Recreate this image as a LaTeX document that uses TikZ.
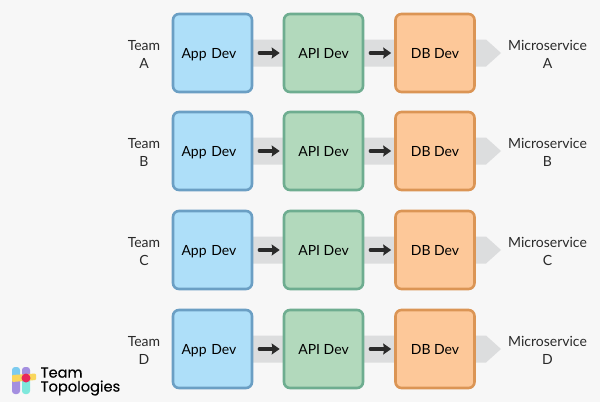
\documentclass[tikz,border=0pt]{standalone}
\usepackage{fontspec}
\setmainfont{Lato}
\newfontfamily\logofont[FakeBold=0.25]{Poppins}
\usetikzlibrary{arrows.meta}
\definecolor{bgc}{HTML}{F7F7F7}
\definecolor{bandc}{HTML}{DCDDDE}
\definecolor{blueF}{HTML}{AEDFF9}
\definecolor{blueD}{HTML}{6B9FC4}
\definecolor{greenF}{HTML}{B2D9BC}
\definecolor{greenD}{HTML}{6EAD90}
\definecolor{orangeF}{HTML}{FDC899}
\definecolor{orangeD}{HTML}{DB9555}
\definecolor{txt}{HTML}{2A2A2A}
\definecolor{logoPurple}{HTML}{A48FE0}
\definecolor{logoTeal}{HTML}{7FE8DC}
\definecolor{logoYellow}{HTML}{F9D65C}
\definecolor{logoRed}{HTML}{E8285A}
\definecolor{logoBlue}{HTML}{7CCBEF}
\tikzset{
  devbox/.style={minimum width=79pt,minimum height=78pt,rounded corners=6pt,line width=2.6pt,inner sep=0pt,font=\fontsize{14}{16}\selectfont,text=black,text depth=0pt},
  appbox/.style={devbox,draw=blueD,fill=blueF},
  apibox/.style={devbox,draw=greenD,fill=greenF},
  dbbox/.style={devbox,draw=orangeD,fill=orangeF},
  sidelabel/.style={align=center,font=\fontsize{14}{18.5}\selectfont,text=txt,inner sep=0pt},
  flowarrow/.style={line width=3.2pt,-{Stealth[length=8pt,width=11pt,inset=1pt]},color=txt,line cap=round},
  band/.style={fill=bandc,draw=none},
  logotext/.style={font=\logofont\fontsize{14.6}{14}\selectfont,align=left,anchor=west,inner sep=0pt,text=black}
}
\begin{document}
\begin{tikzpicture}[x=1pt,y=-1pt]
\path[use as bounding box,fill=bgc] (0,0) rectangle (600,402);
\foreach \n/\L/\yy in {1/A/53,2/B/151,3/C/250,4/D/349}{
  \fill[band] (253,\yy-13.5) -- (486,\yy-13.5) -- (501,\yy) -- (486,\yy+13.5) -- (253,\yy+13.5) -- cycle;
  \node[appbox,text width=73pt,align=left] (app\n) at (212.5,\yy) {\hspace*{5.5pt}App Dev};
  \node[apibox] (api\n) at (323.5,\yy) {API Dev};
  \node[dbbox] (db\n) at (435,\yy) {DB Dev};
  \node[sidelabel] (team\n) at (144,\yy+1.5) {Team\\\L};
  \node[sidelabel] (ms\n) at (547.5,\yy+1.5) {Microservice\\\L};
  \draw[flowarrow] ([xshift=6pt]app\n.east) -- ([xshift=-3pt]api\n.west);
  \draw[flowarrow] ([xshift=6pt]api\n.east) -- ([xshift=-3pt]db\n.west);
}
% logo
\fill[logoPurple,rounded corners=3pt] (12,376) rectangle (20,394);
\fill[logoBlue,rounded corners=3pt] (12,367) rectangle (20,380);
\fill[logoPurple,rounded corners=3pt] (22,367) rectangle (30,380);
\fill[logoTeal,rounded corners=3pt] (22,376) rectangle (30,394);
\fill[logoYellow,rounded corners=1pt] (12,375) -- (36,373.5) -- (36,380) -- (12,382) -- cycle;
\fill[logoRed] (26,378) ellipse (4.5pt and 4.5pt);
\node[logotext] (logo) at (40.5,381.5) {Team\\Topologies};
\end{tikzpicture}
\end{document}
